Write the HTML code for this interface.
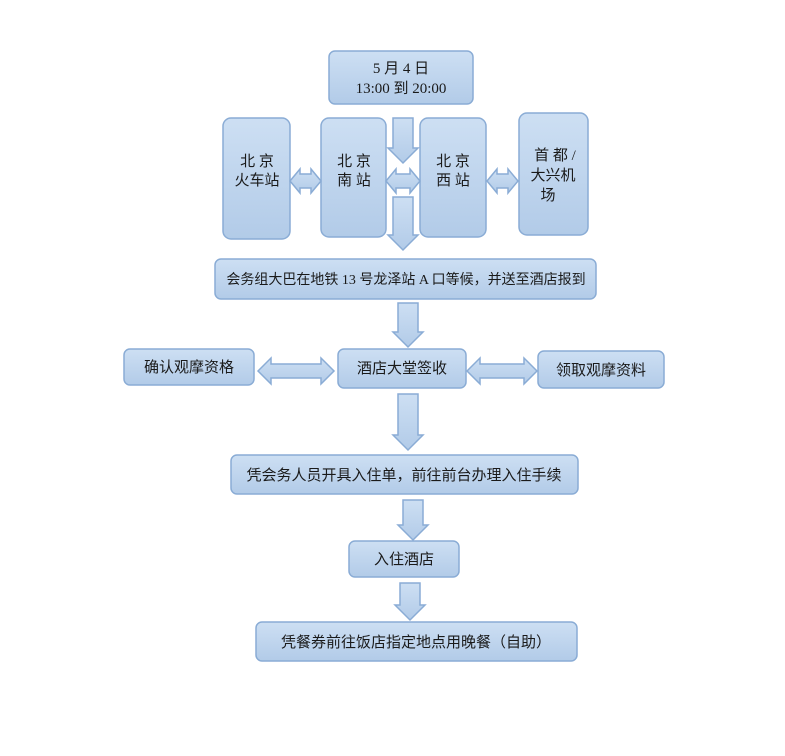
<!DOCTYPE html>
<html><head><meta charset="utf-8"><style>
body{margin:0;background:#fff}
svg text{font-family:"Liberation Serif","Noto Sans CJK SC",sans-serif;fill:#1a1a1a;font-size:15px}
</style></head><body>
<svg width="785" height="751" viewBox="0 0 785 751" xmlns="http://www.w3.org/2000/svg">
<defs>
<linearGradient id="g" x1="0" y1="0" x2="0" y2="1"><stop offset="0" stop-color="#cddff3"/><stop offset="1" stop-color="#b2cbe8"/></linearGradient>
</defs>
<g fill="url(#g)" stroke="#8aacd5" stroke-width="1.5">
<rect x="329" y="51" width="144" height="53" rx="6"/>
<rect x="223" y="118" width="67" height="121" rx="8"/>
<rect x="321" y="118" width="65" height="119" rx="8"/>
<rect x="420" y="118" width="66" height="119" rx="8"/>
<rect x="519" y="113" width="69" height="122" rx="8"/>
<rect x="215" y="259" width="381" height="40" rx="6"/>
<rect x="124" y="349" width="130" height="36" rx="6"/>
<rect x="338" y="349" width="128" height="39" rx="6"/>
<rect x="538" y="351" width="126" height="37" rx="6"/>
<rect x="231" y="455" width="347" height="39" rx="6"/>
<rect x="349" y="541" width="110" height="36" rx="6"/>
<rect x="256" y="622" width="321" height="39" rx="6"/>
<polygon points="393,118 413,118 413,148 418,148 403,163 388,148 393,148"/>
<polygon points="393,197 413,197 413,235 418,235 403,250 388,235 393,235"/>
<polygon points="398,303 418,303 418,332 423,332 408,347 393,332 398,332"/>
<polygon points="398,394 418,394 418,435 423,435 408,450 393,435 398,435"/>
<polygon points="403,500 423,500 423,525 428,525 413,540 398,525 403,525"/>
<polygon points="400,583 420,583 420,605 425,605 410,620 395,605 400,605"/>
<polygon points="290,181 300,169 300,174 311,174 311,169 321,181 311,193 311,188 300,188 300,193"/>
<polygon points="386,181 396,169 396,174 410,174 410,169 420,181 410,193 410,188 396,188 396,193"/>
<polygon points="487,181 497,169 497,174 508,174 508,169 518,181 508,193 508,188 497,188 497,193"/>
<polygon points="258,371 271,358 271,364 321,364 321,358 334,371 321,384 321,378 271,378 271,384"/>
<polygon points="467,371 480,358 480,364 524,364 524,358 537,371 524,384 524,378 480,378 480,384"/>
</g>
<g text-anchor="middle">
<text x="401" y="73">5 月 4 日</text>
<text x="401" y="93">13:00 到 20:00</text>
<text x="257" y="166">北 京</text>
<text x="257" y="185">火车站</text>
<text x="354" y="166">北 京</text>
<text x="354" y="185">南 站</text>
<text x="453" y="166">北 京</text>
<text x="453" y="185">西 站</text>
<text x="555" y="160">首 都 /</text>
<text x="553" y="180">大兴机</text>
<text x="548" y="200">场</text>
<text x="406" y="284" style="font-size:14px">会务组大巴在地铁 13 号龙泽站 A 口等候，并送至酒店报到</text>
<text x="189" y="372">确认观摩资格</text>
<text x="402" y="373">酒店大堂签收</text>
<text x="601" y="375">领取观摩资料</text>
<text x="404" y="480">凭会务人员开具入住单，前往前台办理入住手续</text>
<text x="404" y="564">入住酒店</text>
<text x="416" y="647">凭餐券前往饭店指定地点用晚餐（自助）</text>
</g>
</svg>
</body></html>
